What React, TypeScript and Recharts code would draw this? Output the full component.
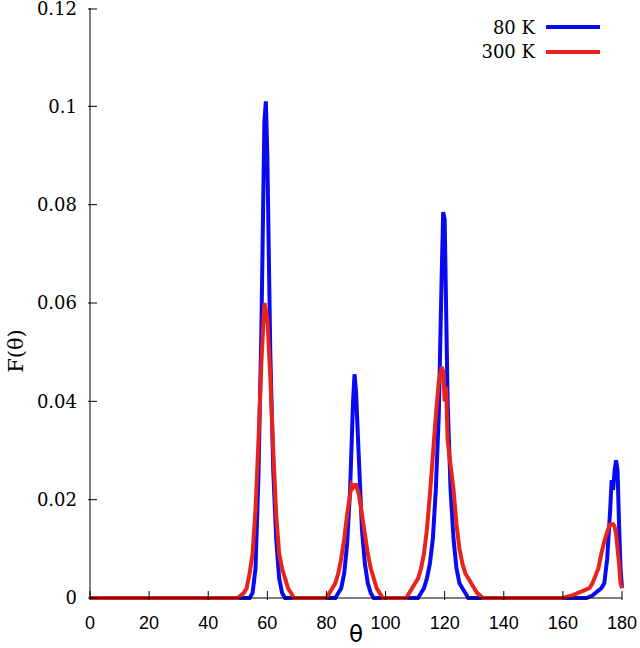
import { Legend, Line, LineChart, XAxis, YAxis } from "recharts";

// F(theta) distributions
const theta80 = [
  0, 54, 55, 56, 57, 58, 59, 59.5, 60, 61, 62, 63, 64, 65, 66,
  83, 84, 85, 86, 87, 88, 89, 89.5, 90, 91, 92, 93, 94, 95, 96,
  111, 112, 113, 114, 115, 116, 117, 118, 119, 119.5, 120, 121, 122, 123, 124, 125, 126, 127, 128,
  168, 170, 171, 172, 173, 174, 175, 176, 176.5, 177, 177.5, 178, 178.5, 179, 179.5, 180,
];
const f80 = [
  0, 0, 0.001, 0.006, 0.025, 0.055, 0.097, 0.101, 0.09, 0.05, 0.026, 0.012, 0.004, 0.001, 0,
  0, 0.001, 0.002, 0.005, 0.011, 0.022, 0.04, 0.0455, 0.042, 0.028, 0.014, 0.007, 0.003, 0.001, 0,
  0, 0.001, 0.002, 0.004, 0.007, 0.012, 0.022, 0.037, 0.066, 0.0785, 0.077, 0.04, 0.022, 0.012, 0.006, 0.003, 0.002, 0.001, 0,
  0, 0.0005, 0.001, 0.0015, 0.002, 0.003, 0.008, 0.018, 0.024, 0.022, 0.026, 0.028, 0.026, 0.015, 0.006, 0.002,
];

const theta300 = [
  0, 50, 51, 52, 53, 54, 55, 56, 57, 58, 59, 60, 61, 62, 63, 64, 65, 66, 67, 68, 69,
  80, 81, 82, 83, 84, 85, 86, 87, 88, 88.5, 89, 89.5, 90, 90.5, 91, 92, 93, 94, 95, 96, 97, 98, 99,
  107, 108, 109, 110, 111, 112, 113, 114, 115, 116, 117, 118, 119, 119.5, 120, 120.5, 121, 122, 123, 124, 125, 126, 127, 128, 129, 130, 131, 132, 133,
  160, 163, 165, 167, 169, 170, 171, 172, 173, 174, 175, 176, 177, 177.5, 178, 179, 179.5, 180,
];
const f300 = [
  0, 0, 0.0005, 0.001, 0.002, 0.005, 0.009, 0.018, 0.032, 0.048, 0.06, 0.057, 0.045, 0.03, 0.017, 0.009, 0.006, 0.004, 0.002, 0.001, 0,
  0, 0.001, 0.002, 0.003, 0.005, 0.008, 0.012, 0.017, 0.021, 0.023, 0.0225, 0.023, 0.023, 0.022, 0.021, 0.017, 0.013, 0.009, 0.006, 0.004, 0.002, 0.001, 0,
  0, 0.001, 0.002, 0.003, 0.004, 0.006, 0.009, 0.014, 0.021, 0.029, 0.037, 0.044, 0.047, 0.046, 0.04, 0.043, 0.032, 0.027, 0.022, 0.015, 0.01, 0.007, 0.005, 0.004, 0.003, 0.002, 0.001, 0.0005, 0,
  0, 0.0005, 0.001, 0.0015, 0.002, 0.003, 0.0045, 0.006, 0.009, 0.0115, 0.0135, 0.015, 0.015, 0.0145, 0.013, 0.007, 0.003, 0.002,
];

const xTicks = [0, 20, 40, 60, 80, 100, 120, 140, 160, 180];
const yTicks = [0, 0.02, 0.04, 0.06, 0.08, 0.1, 0.12];
const yTickLabels = ["0", "0.02", "0.04", "0.06", "0.08", "0.1", "0.12"];

const series = [
  { name: "80 K", color: "#0a0af0" },
  { name: "300 K", color: "#e8231c" },
];

const data80 = theta80.map((t, i) => ({ theta: t, f: f80[i] }));
const data300 = theta300.map((t, i) => ({ theta: t, f: f300[i] }));

const TICK = 9;
const serif = "DejaVu Serif";
const sans = "Liberation Sans";

// gnuplot style: ticks point into the plot, labels outside
const BottomTick = (p: any) => (
  <g>
    <line x1={p.x} x2={p.x} y1={p.y} y2={p.y - TICK} stroke="#000" />
    <text x={p.x} y={p.y + 29} textAnchor="middle" fontFamily={sans} fontSize={18} fill="#000">
      {p.payload.value}
    </text>
  </g>
);
const TopTick = (p: any) => (
  <line x1={p.x} x2={p.x} y1={p.y} y2={p.y + TICK} stroke="#000" />
);
const LeftTick = (p: any) => (
  <g>
    <line x1={p.x} x2={p.x + TICK} y1={p.y} y2={p.y} stroke="#000" />
    <text x={p.x - 11} y={p.y} dy="0.36em" textAnchor="end" fontFamily={serif} fontSize={18} fill="#000">
      {yTickLabels[yTicks.indexOf(p.payload.value)]}
    </text>
  </g>
);
const RightTick = (p: any) => (
  <line x1={p.x} x2={p.x - TICK} y1={p.y} y2={p.y} stroke="#000" />
);

const KeyBox = () => (
  <div style={{ fontFamily: serif, fontSize: 18, color: "#000" }}>
    {series.map((s) => (
      <div key={s.name} style={{ display: "flex", alignItems: "center", height: 24.5 }}>
        <span style={{ width: 135, textAlign: "right" }}>{s.name}</span>
        <svg width={54} height={6} style={{ marginLeft: 11 }}>
          <line x1={0} x2={54} y1={3} y2={3} stroke={s.color} strokeWidth={4} />
        </svg>
      </div>
    ))}
  </div>
);

export default function App() {
  return (
    <div style={{ position: "absolute", left: 0, top: 0, background: "#fff" }}>
      <LineChart width={640} height={648} margin={{ top: 8, right: 18, bottom: 0, left: 0 }}>
        <XAxis
          xAxisId="b"
          type="number"
          dataKey="theta"
          domain={[0, 180]}
          ticks={xTicks}
          height={50}
          tickSize={0}
          tickLine={false}
          axisLine={{ stroke: "#000" }}
          tick={BottomTick}
          label={{
            content: ({ viewBox }: any) => (
              <text
                x={viewBox.x + viewBox.width / 2}
                y={viewBox.y + 44}
                textAnchor="middle"
                fontFamily="DejaVu Sans"
                fontSize={23}
                fill="#000"
              >
                θ
              </text>
            ),
          }}
        />
        <XAxis
          xAxisId="t"
          orientation="top"
          type="number"
          dataKey="theta"
          domain={[0, 180]}
          ticks={xTicks}
          height={0}
          tickSize={0}
          tickLine={false}
          axisLine={{ stroke: "#000" }}
          tick={TopTick}
        />
        <YAxis
          yAxisId="l"
          type="number"
          domain={[0, 0.12]}
          ticks={yTicks}
          width={90}
          tickSize={0}
          tickLine={false}
          axisLine={{ stroke: "#000" }}
          tick={LeftTick}
          label={{
            content: ({ viewBox }: any) => {
              const cx = viewBox.x + 16;
              const cy = viewBox.y + viewBox.height / 2 + 48;
              return (
                <text
                  x={cx}
                  y={cy}
                  transform={`rotate(-90 ${cx} ${cy})`}
                  dy="0.35em"
                  textAnchor="middle"
                  fontFamily={serif}
                  fontSize={21}
                  fill="#000"
                >
                  F(θ)
                </text>
              );
            },
          }}
        />
        <YAxis
          yAxisId="r"
          orientation="right"
          type="number"
          domain={[0, 0.12]}
          ticks={yTicks}
          width={0}
          tickSize={0}
          tickLine={false}
          axisLine={{ stroke: "#000" }}
          tick={RightTick}
        />
        <Legend
          content={KeyBox}
          verticalAlign="top"
          wrapperStyle={{ position: "absolute", left: 400, top: 15, width: 210, height: 0, overflow: "visible" }}
        />
        <Line
          xAxisId="b"
          yAxisId="l"
          data={data80}
          dataKey="f"
          name={series[0].name}
          type="linear"
          stroke={series[0].color}
          strokeWidth={4}
          dot={false}
          isAnimationActive={false}
        />
        <Line
          xAxisId="b"
          yAxisId="l"
          data={data300}
          dataKey="f"
          name={series[1].name}
          type="linear"
          stroke={series[1].color}
          strokeWidth={4}
          dot={false}
          isAnimationActive={false}
        />
      </LineChart>
    </div>
  );
}
